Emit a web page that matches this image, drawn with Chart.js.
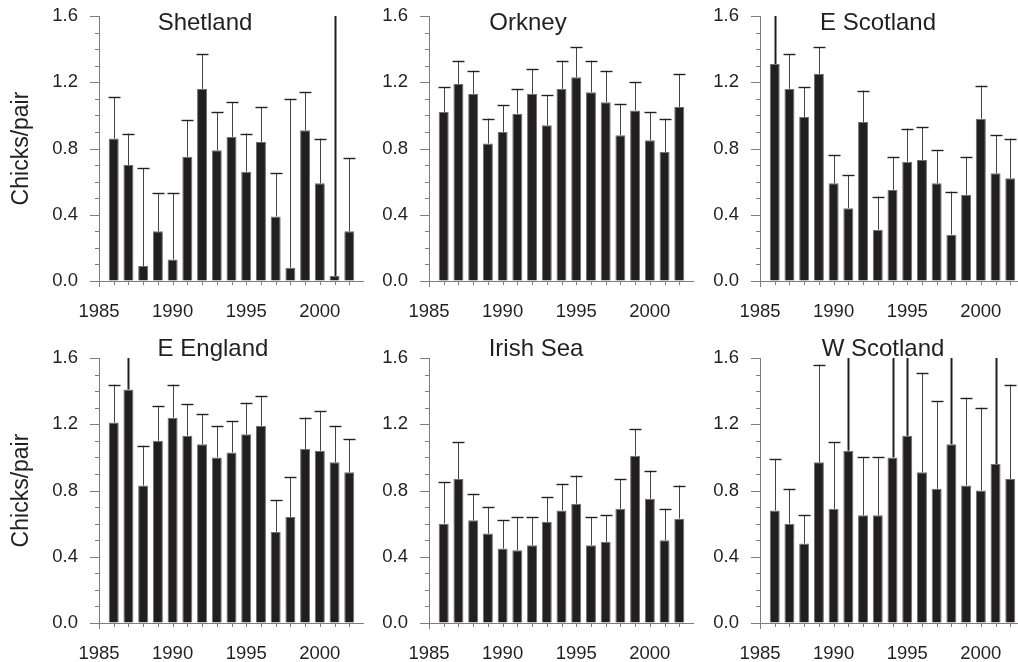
<!DOCTYPE html>
<html><head><meta charset="utf-8">
<script src="https://cdn.jsdelivr.net/npm/chart.js@4.4.1/dist/chart.umd.min.js"></script>
<style>
html,body{margin:0;padding:0;background:#fff;overflow:hidden;width:1018px;height:662px;position:relative;}
canvas{position:absolute;}
</style></head><body>
<canvas id="c0" width="364" height="350" style="left:0px;top:-20px"></canvas>
<canvas id="c1" width="364" height="350" style="left:330px;top:-20px"></canvas>
<canvas id="c2" width="364" height="350" style="left:661px;top:-20px"></canvas>
<canvas id="c3" width="364" height="350" style="left:0px;top:322px"></canvas>
<canvas id="c4" width="364" height="350" style="left:330px;top:322px"></canvas>
<canvas id="c5" width="364" height="350" style="left:661px;top:322px"></canvas>
<script>
// ---- data ----
const years = [1986,1987,1988,1989,1990,1991,1992,1993,1994,1995,1996,1997,1998,1999,2000,2001,2002];
const xTickYears = [1985, 1990, 1995, 2000];
const yTickValues = [0, 0.4, 0.8, 1.2, 1.6];
const regions = ['Shetland', 'Orkney', 'E Scotland', 'E England', 'Irish Sea', 'W Scotland'];
const yAxisTitle = 'Chicks/pair';

const shetlandMean  = [0.86,0.70,0.09,0.30,0.13,0.75,1.16,0.79,0.87,0.66,0.84,0.39,0.08,0.91,0.59,0.03,0.30];
const shetlandUpper = [1.11,0.89,0.68,0.53,0.53,0.97,1.37,1.02,1.08,0.89,1.05,0.65,1.10,1.14,0.86,1.80,0.74];

const orkneyMean  = [1.02,1.19,1.13,0.83,0.90,1.01,1.13,0.94,1.16,1.23,1.14,1.08,0.88,1.03,0.85,0.78,1.05];
const orkneyUpper = [1.17,1.33,1.27,0.98,1.06,1.16,1.28,1.12,1.33,1.41,1.33,1.27,1.07,1.20,1.02,0.98,1.25];

const eScotlandMean  = [1.31,1.16,0.99,1.25,0.59,0.44,0.96,0.31,0.55,0.72,0.73,0.59,0.28,0.52,0.98,0.65,0.62];
const eScotlandUpper = [1.75,1.37,1.17,1.41,0.76,0.64,1.15,0.51,0.75,0.92,0.93,0.79,0.54,0.75,1.18,0.88,0.86];

const eEnglandMean  = [1.21,1.41,0.83,1.10,1.24,1.13,1.08,1.00,1.03,1.14,1.19,0.55,0.64,1.05,1.04,0.97,0.91];
const eEnglandUpper = [1.44,1.70,1.07,1.31,1.44,1.32,1.26,1.19,1.22,1.33,1.37,0.74,0.88,1.24,1.28,1.19,1.11];

const irishSeaMean  = [0.60,0.87,0.62,0.54,0.45,0.44,0.47,0.61,0.68,0.72,0.47,0.49,0.69,1.01,0.75,0.50,0.63];
const irishSeaUpper = [0.85,1.09,0.78,0.70,0.62,0.64,0.64,0.76,0.84,0.89,0.64,0.65,0.87,1.17,0.92,0.69,0.83];

const wScotlandMean  = [0.68,0.60,0.48,0.97,0.69,1.04,0.65,0.65,1.00,1.13,0.91,0.81,1.08,0.83,0.80,0.96,0.87];
const wScotlandUpper = [0.99,0.81,0.65,1.56,1.09,1.80,1.00,1.00,1.75,1.85,1.51,1.34,1.80,1.36,1.30,1.75,1.44];

const panelMeans  = [shetlandMean, orkneyMean, eScotlandMean, eEnglandMean, irishSeaMean, wScotlandMean];
const panelUppers = [shetlandUpper, orkneyUpper, eScotlandUpper, eEnglandUpper, irishSeaUpper, wScotlandUpper];

// ---- styling / layout (not data) ----
const ink = '#231f20';
const axisGrey = '#7d7d7d';
const fontFam = "'Liberation Sans', Arial, Helvetica, sans-serif";
const panelLayout = [
  {tdx: 106, tdy: 14,  yTitle: true},
  {tdx: 99,  tdy: 14,  yTitle: false},
  {tdx: 118, tdy: 14,  yTitle: false},
  {tdx: 114, tdy: -2,  yTitle: true},
  {tdx: 107, tdy: -2,  yTitle: false},
  {tdx: 123, tdy: -2,  yTitle: false}
];

const decor = {
  id: 'decor',
  afterDatasetsDraw(chart, args, o) {
    const {ctx, chartArea: a, scales: {x, y}} = chart;
    ctx.save();
    ctx.beginPath();
    ctx.rect(a.left - 10, a.top, a.right - a.left + 20, a.bottom - a.top);
    ctx.clip();
    o.upper.forEach((u, i) => {
      const px = Math.round(x.getPixelForValue(years[i])) + 0.5;
      const y0 = y.getPixelForValue(o.mean[i]);
      const y1 = y.getPixelForValue(u);
      const clipped = y1 < a.top;
      ctx.strokeStyle = clipped ? ink : '#444';
      ctx.lineWidth = clipped ? 2 : 1;
      ctx.beginPath();
      ctx.moveTo(px, y0);
      ctx.lineTo(px, Math.max(y1, a.top));
      ctx.stroke();
      if (!clipped) {
        ctx.strokeStyle = ink;
        ctx.lineWidth = 1.4;
        ctx.beginPath();
        ctx.moveTo(px - 6, Math.round(y1) + 0.5);
        ctx.lineTo(px + 6, Math.round(y1) + 0.5);
        ctx.stroke();
      }
    });
    ctx.restore();
  },
  afterDraw(chart, args, o) {
    const {ctx, chartArea: a, scales: {x, y}} = chart;
    ctx.save();
    ctx.strokeStyle = axisGrey;
    ctx.lineWidth = 1;
    ctx.beginPath();
    for (let k = 0; k <= 16; k++) {
      const py = Math.round(y.getPixelForValue(k / 10)) + 0.5;
      const len = (k % 4 === 0) ? 9 : 4;
      ctx.moveTo(a.left - len, py);
      ctx.lineTo(a.left, py);
    }
    for (let yr = x.min; yr < x.max; yr++) {
      const px = Math.round(x.getPixelForValue(yr)) + 0.5;
      const len = (yr === x.min) ? 6 : 4;
      ctx.moveTo(px, a.bottom);
      ctx.lineTo(px, a.bottom + len);
    }
    ctx.stroke();
    ctx.fillStyle = ink;
    ctx.font = '24px ' + fontFam;
    ctx.textAlign = 'center';
    ctx.textBaseline = 'alphabetic';
    ctx.fillText(o.title, a.left + o.tdx, a.top + o.tdy);
    ctx.restore();
  }
};

Chart.defaults.font.family = fontFam;
Chart.defaults.color = ink;

const hiddenTicks = len => ({display: true, drawOnChartArea: false, drawTicks: true, tickLength: len, tickColor: 'rgba(0,0,0,0)'});

regions.forEach((name, p) => {
  const L = panelLayout[p];
  const mean = panelMeans[p];
  new Chart(document.getElementById('c' + p), {
    type: 'bar',
    data: {
      datasets: [{
        label: name,
        data: years.map((yr, i) => ({x: yr, y: mean[i]})),
        backgroundColor: ink,
        borderColor: '#6f6f6f',
        borderWidth: 1,
        categoryPercentage: 1,
        barPercentage: 0.68
      }]
    },
    options: {
      responsive: false,
      animation: false,
      devicePixelRatio: 1,
      layout: {padding: {top: 36, left: 0, right: 0, bottom: 0}},
      plugins: {
        legend: {display: false},
        tooltip: {enabled: false},
        decor: {title: name, tdx: L.tdx, tdy: L.tdy, mean: mean, upper: panelUppers[p]}
      },
      scales: {
        x: {
          type: 'linear',
          min: 1985,
          max: 2003,
          offset: false,
          afterBuildTicks: s => { s.ticks = xTickYears.map(v => ({value: v})); },
          afterFit: s => { s.height = 49; },
          grid: hiddenTicks(20),
          border: {display: true, color: axisGrey, width: 1},
          ticks: {
            autoSkip: false, maxRotation: 0, padding: 0,
            font: {size: 18.5},
            callback: v => String(v)
          }
        },
        y: {
          min: 0,
          max: 1.6,
          afterBuildTicks: s => { s.ticks = yTickValues.map(v => ({value: v})); },
          afterFit: s => { s.width = 99; },
          grid: hiddenTicks(21),
          border: {display: true, color: axisGrey, width: 1},
          ticks: {padding: 0, font: {size: 18.5}, callback: v => Number(v).toFixed(1)},
          title: {display: L.yTitle, text: yAxisTitle, font: {size: 23}, padding: {top: 8, bottom: 0}}
        }
      }
    },
    plugins: [decor]
  });
});
</script>
</body></html>
